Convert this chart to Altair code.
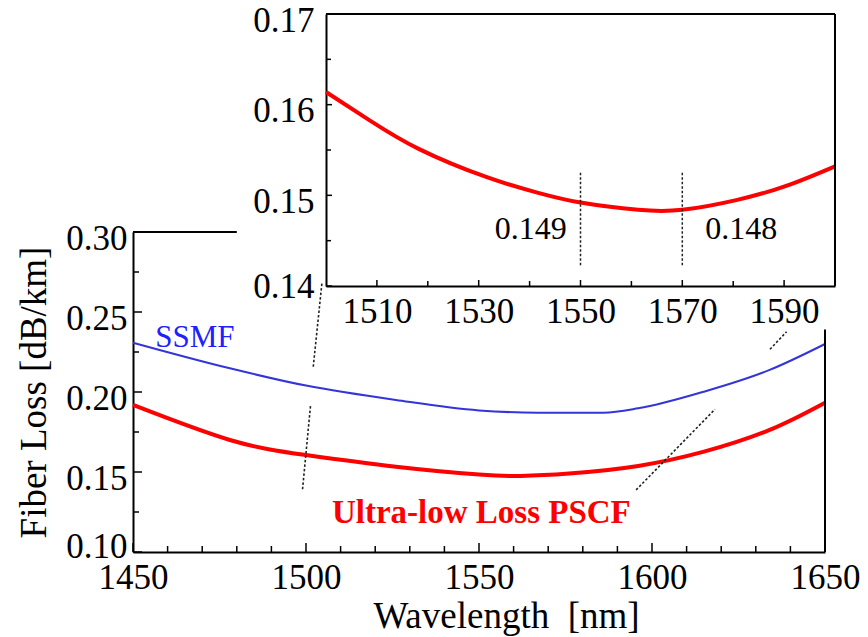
import altair as alt
import pandas as pd

FONT = "Liberation Serif"

# ---- data ----
ssmf_wl = [1450, 1478, 1500, 1526, 1550, 1567, 1586, 1596, 1615, 1634, 1650]
ssmf_loss = [0.2308, 0.2148, 0.2040, 0.1950, 0.1885, 0.1871, 0.1871, 0.1898, 0.2002, 0.2138, 0.2300]
pscf_wl = [1450, 1478, 1500, 1526, 1550, 1562, 1576, 1596, 1615, 1634, 1650]
pscf_loss = [0.1919, 0.1700, 0.1606, 0.1533, 0.1484, 0.1475, 0.1490, 0.1538, 0.1627, 0.1763, 0.1933]
inset_wl = [1500, 1508.5, 1518.3, 1531.6, 1541.5, 1550, 1561.3, 1570, 1580.8, 1590.7, 1600]
inset_loss = [0.1614, 0.1583, 0.1551, 0.1520, 0.1503, 0.1492, 0.1484, 0.1484, 0.1495, 0.1511, 0.1532]

main_x_major = [1450, 1500, 1550, 1600, 1650]
main_x_minor = [1460, 1470, 1480, 1490, 1510, 1520, 1530, 1540, 1560, 1570, 1580, 1590,
                1610, 1620, 1630, 1640]
main_y_major = [0.10, 0.15, 0.20, 0.25, 0.30]
main_y_minor = [0.125, 0.175, 0.225, 0.275]
inset_x_major = [1510, 1530, 1550, 1570, 1590]
inset_x_minor = [1520, 1540, 1560, 1580]
inset_y_major = [0.14, 0.15, 0.16, 0.17]
inset_y_minor = [0.145, 0.155, 0.165]

marker_wl = [1550, 1570]
marker_lo = [0.1423, 0.1423]
marker_hi = [0.1525, 0.1525]
marker_text = ["0.149", "0.148"]
marker_text_wl = [1547.3, 1574.5]
marker_text_loss = [0.1452, 0.1452]

zoom_seg = ["a", "a", "b", "b", "c", "c", "d", "d"]
zoom_wl = [1504.6, 1502.1, 1501.3, 1499.0, 1638.9, 1634.1, 1618.2, 1595.4]
zoom_loss = [0.268, 0.2158, 0.1913, 0.1392, 0.2377, 0.2267, 0.1892, 0.1388]

# ---- main panel ----
xm_scale = alt.Scale(domain=[1450, 1650], range=[0, 692], nice=False, zero=False)
ym_scale = alt.Scale(domain=[0.10, 0.30], range=[538, 218], nice=False, zero=False)
xm_axis = alt.Axis(orient="bottom", values=main_x_major, format="d", ticks=False, grid=False,
                   domainColor="black", domainWidth=2, labelFont=FONT, labelFontSize=35,
                   labelColor="black", labelPadding=8, labelFlush=False,
                   title="Wavelength\u00a0\u00a0[nm]",
                   titleFont=FONT, titleFontSize=37, titleFontWeight="normal", titleColor="black",
                   titleX=373, titleY=75, titleAlign="center", titleBaseline="alphabetic")
ym_axis = alt.Axis(orient="left", values=main_y_major, format=".2f", ticks=False, grid=False,
                   domainColor="black", domainWidth=2, labelFont=FONT, labelFontSize=35,
                   labelColor="black", labelPadding=6,
                   labelOffset=alt.condition("datum.value <= 0.1", alt.value(-6), alt.value(6)),
                   labelFlush=False,
                   title="Fiber Loss [dB/km]", titleFont=FONT, titleFontSize=37,
                   titleFontWeight="normal", titleColor="black", titleX=-88, titleY=378,
                   titleAlign="center", titleBaseline="alphabetic", titleAngle=270)


def XM(f="x"):
    return alt.X(f"{f}:Q", scale=xm_scale, axis=xm_axis)


def YM(f="y"):
    return alt.Y(f"{f}:Q", scale=ym_scale, axis=ym_axis)


ssmf = alt.Chart(pd.DataFrame({"x": ssmf_wl, "y": ssmf_loss})).mark_line(
    color="#3434d8", strokeWidth=2, interpolate="monotone").encode(x=XM(), y=YM())
pscf = alt.Chart(pd.DataFrame({"x": pscf_wl, "y": pscf_loss})).mark_line(
    color="#ff0000", strokeWidth=4, interpolate="natural").encode(x=XM(), y=YM())

zoom_lines = alt.Chart(pd.DataFrame({"x": zoom_wl, "y": zoom_loss, "s": zoom_seg})).mark_line(
    color="#222222", strokeWidth=1.6, strokeDash=[2.5, 2]).encode(x=XM(), y=YM(), detail="s:N")

mx_major = alt.Chart(pd.DataFrame({"x": main_x_major})).mark_rule(color="black", strokeWidth=1.5).encode(
    x=XM(), y=alt.value(538), y2=alt.value(529))
mx_minor = alt.Chart(pd.DataFrame({"x": main_x_minor})).mark_rule(color="black", strokeWidth=1.5).encode(
    x=XM(), y=alt.value(538), y2=alt.value(532))
my_major = alt.Chart(pd.DataFrame({"y": main_y_major})).mark_rule(color="black", strokeWidth=1.5).encode(
    y=YM(), x=alt.value(0), x2=alt.value(9))
my_minor = alt.Chart(pd.DataFrame({"y": main_y_minor})).mark_rule(color="black", strokeWidth=1.5).encode(
    y=YM(), x=alt.value(0), x2=alt.value(6))

top_border = alt.Chart(pd.DataFrame({"x": [1450], "x2": [1480], "y": [0.30]})).mark_rule(
    color="black", strokeWidth=2).encode(x=XM(), x2="x2:Q", y=YM())
right_border = alt.Chart(pd.DataFrame({"x": [1650], "y": [0.10], "y2": [0.239]})).mark_rule(
    color="black", strokeWidth=2).encode(x=XM(), y=YM(), y2="y2:Q")

ssmf_text = alt.Chart(pd.DataFrame({"x": [1456.4], "y": [0.2281], "t": ["SSMF"]})).mark_text(
    align="left", baseline="alphabetic", font=FONT, fontSize=31, color="#2020ff").encode(
    x=XM(), y=YM(), text="t:N")
pscf_text = alt.Chart(pd.DataFrame({"x": [1507.5], "y": [0.1181], "t": ["Ultra-low Loss PSCF"]})).mark_text(
    align="left", baseline="alphabetic", font=FONT, fontSize=33, fontWeight="bold", color="#ff0000").encode(
    x=XM(), y=YM(), text="t:N")

main = alt.layer(ssmf, pscf, zoom_lines, mx_major, mx_minor, my_major, my_minor,
                 top_border, right_border, ssmf_text, pscf_text)

# ---- inset panel ----
xi_scale = alt.Scale(domain=[1500, 1600], range=[193, 702], nice=False, zero=False)
yi_scale = alt.Scale(domain=[0.14, 0.17], range=[272, 0], nice=False, zero=False)
xi_axis = alt.Axis(orient="bottom", offset=-266, values=inset_x_major, format="d", ticks=False,
                   grid=False, domainColor="black", domainWidth=2, labelFont=FONT, labelFontSize=35,
                   labelColor="black", labelPadding=8, labelFlush=False, title=None)
yi_axis = alt.Axis(orient="left", offset=-193, values=inset_y_major, format=".2f", ticks=False,
                   grid=False, domainColor="black", domainWidth=2, labelFont=FONT, labelFontSize=35,
                   labelColor="black", labelPadding=12,
                   labelOffset=alt.condition("datum.value <= 0.14", alt.value(0), alt.value(6)),
                   labelFlush=False, title=None)


def XI(f="x"):
    return alt.X(f"{f}:Q", scale=xi_scale, axis=xi_axis)


def YI(f="y"):
    return alt.Y(f"{f}:Q", scale=yi_scale, axis=yi_axis)


inset_line = alt.Chart(pd.DataFrame({"x": inset_wl, "y": inset_loss})).mark_line(
    color="#ff0000", strokeWidth=4, interpolate="natural").encode(x=XI(), y=YI())
markers = alt.Chart(pd.DataFrame({"x": marker_wl, "y": marker_lo, "y2": marker_hi})).mark_rule(
    color="#222222", strokeWidth=1.5, strokeDash=[2.5, 2]).encode(x=XI(), y=YI(), y2="y2:Q")
marker_df = pd.DataFrame({"x": marker_text_wl, "y": marker_text_loss, "t": marker_text})
mt_left = alt.Chart(marker_df.iloc[[0]]).mark_text(
    align="right", baseline="alphabetic", font=FONT, fontSize=32, color="black").encode(
    x=XI(), y=YI(), text="t:N")
mt_right = alt.Chart(marker_df.iloc[[1]]).mark_text(
    align="left", baseline="alphabetic", font=FONT, fontSize=32, color="black").encode(
    x=XI(), y=YI(), text="t:N")

ix_major = alt.Chart(pd.DataFrame({"x": inset_x_major})).mark_rule(color="black", strokeWidth=1.5).encode(
    x=XI(), y=alt.value(272), y2=alt.value(266))
ix_minor = alt.Chart(pd.DataFrame({"x": inset_x_minor})).mark_rule(color="black", strokeWidth=1.5).encode(
    x=XI(), y=alt.value(272), y2=alt.value(267))
iy_major = alt.Chart(pd.DataFrame({"y": inset_y_major})).mark_rule(color="black", strokeWidth=1.5).encode(
    y=YI(), x=alt.value(193), x2=alt.value(199))
iy_minor = alt.Chart(pd.DataFrame({"y": inset_y_minor})).mark_rule(color="black", strokeWidth=1.5).encode(
    y=YI(), x=alt.value(193), x2=alt.value(198))

i_top = alt.Chart(pd.DataFrame({"x": [1500], "x2": [1600], "y": [0.17]})).mark_rule(
    color="black", strokeWidth=2).encode(x=XI(), x2="x2:Q", y=YI())
i_right = alt.Chart(pd.DataFrame({"x": [1600], "y": [0.14], "y2": [0.17]})).mark_rule(
    color="black", strokeWidth=2).encode(x=XI(), y=YI(), y2="y2:Q")

inset = alt.layer(inset_line, markers, mt_left, mt_right, ix_major, ix_minor, iy_major, iy_minor,
                  i_top, i_right)

chart = alt.layer(main, inset).resolve_scale(
    x="independent", y="independent").resolve_axis(
    x="independent", y="independent").properties(
    width=702, height=538,
    autosize=alt.AutoSizeParams(type="none"),
    padding={"left": 125, "top": 6, "right": 25, "bottom": 85},
    background="white",
).configure_view(stroke=None).configure_axis(
    labelFont=FONT, titleFont=FONT).configure_text(font=FONT)

chart.save("out.html", embed_options={"renderer": "svg", "actions": False})
